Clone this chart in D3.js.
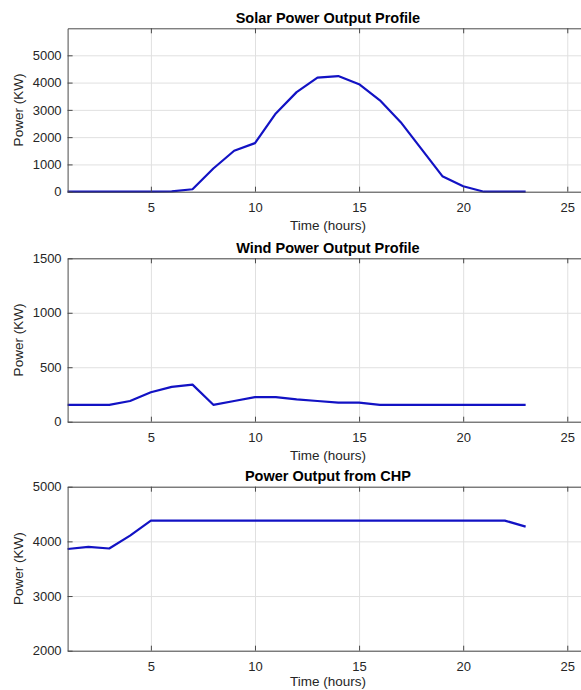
<!DOCTYPE html>
<html>
<head>
<meta charset="utf-8">
<script src="https://cdn.jsdelivr.net/npm/d3@7"></script>
<style>
  html, body { margin: 0; padding: 0; background: #fff; overflow: hidden; }
  svg { display: block; overflow: hidden; }
  text { font-family: "Liberation Sans", Arial, Helvetica, sans-serif; }
</style>
</head>
<body>
<svg id="chart" width="581" height="690"></svg>
<script>
// ---- data ----
const hours = [1,2,3,4,5,6,7,8,9,10,11,12,13,14,15,16,17,18,19,20,21,22,23];
const solarPower = [0,0,0,0,0,15,90,850,1500,1780,2870,3650,4180,4240,3940,3350,2550,1560,570,200,0,0,0];
const windPower  = [155,155,155,190,270,320,340,155,190,225,225,205,190,175,175,155,155,155,155,155,155,155,155];
const chpPower   = [3860,3900,3870,4105,4380,4380,4380,4380,4380,4380,4380,4380,4380,4380,4380,4380,4380,4380,4380,4380,4380,4380,4270];
const titles = ["Solar Power Output Profile", "Wind Power Output Profile", "Power Output from CHP"];
const xTicks = [5,10,15,20,25];
const solarTicks = [0,1000,2000,3000,4000,5000];
const windTicks = [0,500,1000,1500];
const chpTicks = [2000,3000,4000,5000];
const xLabel = "Time (hours)";
const yLabel = "Power (KW)";

// ---- layout ----
// axes box runs past the right edge of the picture (as in the reference crop)
const xDomain = [1, 29];
const left = 67.6, unit = 20.82;
const right = left + (xDomain[1] - xDomain[0]) * unit;
const centerX = 327.9;
const panels = [
  { title: titles[0], values: solarPower, yDomain: [0, 5990], yTicks: solarTicks, top: 28.3, bottom: 191.7, xl: 33.7 },
  { title: titles[1], values: windPower,  yDomain: [0, 1500], yTicks: windTicks,  top: 258.3, bottom: 421.7, xl: 33.7 },
  { title: titles[2], values: chpPower,   yDomain: [2000, 5000], yTicks: chpTicks, top: 486.7, bottom: 650.7, xl: 31.0 }
];

const svg = d3.select("#chart");
const axisColor = "#4a4a4a";
const gridColor = "#e0e0e0";
const textColor = "#262626";
const lineColor = "#1212c4";

panels.forEach(p => {
  const x = d3.scaleLinear().domain(xDomain).range([left, right]);
  const y = d3.scaleLinear().domain(p.yDomain).range([p.bottom, p.top]);
  const h = p.bottom - p.top;
  const g = svg.append("g");

  // grid
  g.append("g")
    .attr("transform", `translate(0,${p.bottom})`)
    .call(d3.axisBottom(x).tickValues(xTicks).tickSize(-h).tickFormat(""))
    .call(a => a.select(".domain").remove())
    .call(a => a.selectAll("line").attr("stroke", gridColor).attr("stroke-width", 1));
  g.append("g")
    .attr("transform", `translate(${left},0)`)
    .call(d3.axisLeft(y).tickValues(p.yTicks).tickSize(-(right - left)).tickFormat(""))
    .call(a => a.select(".domain").remove())
    .call(a => a.selectAll("line").attr("stroke", gridColor).attr("stroke-width", 1));

  // data line
  const line = d3.line().x((d, i) => x(hours[i])).y(d => y(d));
  g.append("path")
    .datum(p.values)
    .attr("fill", "none")
    .attr("stroke", lineColor)
    .attr("stroke-width", 2.2)
    .attr("stroke-linejoin", "round")
    .attr("d", line);

  // axes (inward ticks)
  const bx = g.append("g")
    .attr("transform", `translate(0,${p.bottom})`)
    .call(d3.axisBottom(x).tickValues(xTicks).tickSizeInner(-5).tickSizeOuter(0).tickPadding(11));
  const tx = g.append("g")
    .attr("transform", `translate(0,${p.top})`)
    .call(d3.axisTop(x).tickValues(xTicks).tickSizeInner(-5).tickSizeOuter(0).tickFormat(""));
  const ly = g.append("g")
    .attr("transform", `translate(${left},0)`)
    .call(d3.axisLeft(y).tickValues(p.yTicks).tickSizeInner(-5).tickSizeOuter(0).tickPadding(6).tickFormat(d3.format("d")));
  [bx, tx, ly].forEach(a => {
    a.select(".domain").attr("stroke", axisColor).attr("stroke-width", 1);
    a.selectAll(".tick line").attr("stroke", axisColor);
    a.selectAll("text").attr("fill", textColor).style("font-size", "13px")
      .style("font-family", "'Liberation Sans', Arial, sans-serif");
  });

  // title
  g.append("text")
    .attr("x", centerX).attr("y", p.top - 5.8)
    .attr("text-anchor", "middle")
    .style("font-size", "14.5px").style("font-weight", "bold")
    .attr("fill", "#000")
    .text(p.title);
  // x label
  g.append("text")
    .attr("x", centerX).attr("y", p.bottom + p.xl)
    .attr("dy", "0.35em")
    .attr("text-anchor", "middle")
    .style("font-size", "13.5px")
    .attr("fill", textColor)
    .text(xLabel);
  // y label
  g.append("text")
    .attr("transform", `translate(23,${(p.top + p.bottom) / 2}) rotate(-90)`)
    .attr("text-anchor", "middle")
    .style("font-size", "13.5px")
    .attr("fill", textColor)
    .text(yLabel);
});
</script>
</body>
</html>
